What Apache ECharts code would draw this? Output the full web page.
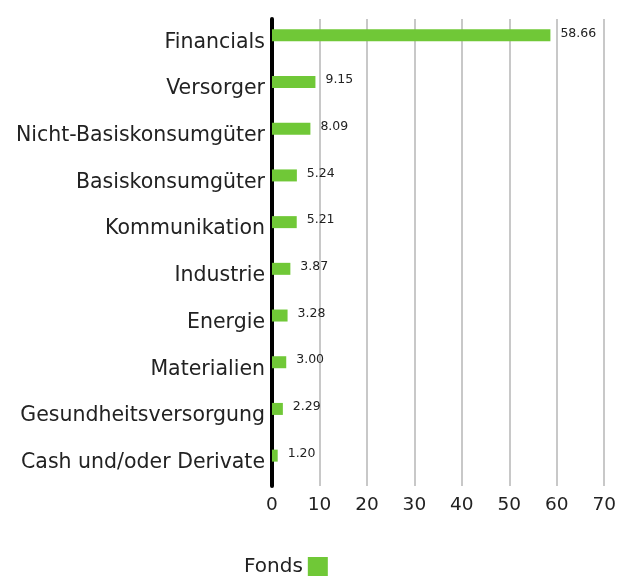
<!DOCTYPE html>
<html><head><meta charset="utf-8">
<script src="https://cdn.jsdelivr.net/npm/echarts@6/dist/echarts.min.js"></script>
<style>html,body{margin:0;padding:0;background:#fff}#c{width:619px;height:576px}</style>
</head><body><div id="c"></div>
<script>
const categories = ["Financials","Versorger","Nicht-Basiskonsumgüter","Basiskonsumgüter","Kommunikation","Industrie","Energie","Materialien","Gesundheitsversorgung","Cash und/oder Derivate"];
const fondsValues = [58.66, 9.15, 8.09, 5.24, 5.21, 3.87, 3.28, 3.00, 2.29, 1.20];
const xTicks = [0, 70, 10];
const FONT = "'DejaVu Sans', sans-serif";
const chart = echarts.init(document.getElementById('c'));
chart.setOption({
  animation: false,
  textStyle: {fontFamily: FONT},
  grid: {left: 272, right: 12, top: 19, bottom: 90, containLabel: false},
  legend: {data: ['Fonds'], bottom: -6, left: 239, align: 'right', itemWidth: 20, itemHeight: 20, itemGap: 8,
    textStyle: {fontSize: 20, color: '#222', fontFamily: FONT}, icon: 'rect'},
  xAxis: {type: 'value', min: xTicks[0], max: xTicks[1], interval: xTicks[2],
    axisLine: {show: false}, axisTick: {show: false},
    axisLabel: {fontSize: 18.5, color: '#222', margin: 10, fontFamily: FONT},
    splitLine: {show: true, lineStyle: {color: '#c8c8c8', width: 2}}},
  yAxis: {type: 'category', data: categories, inverse: true,
    axisLine: {show: true, lineStyle: {color: '#000', width: 4}}, axisTick: {show: false},
    axisLabel: {fontSize: 20.5, color: '#222', margin: 7, fontFamily: FONT, padding: [14,0,0,0]}},
  series: [
    {name: 'Fonds', type: 'bar', data: fondsValues, barWidth: 12, barGap: '17%',
      itemStyle: {color: '#70c837'},
      label: {show: true, position: 'right', distance: 10, fontSize: 12.5, color: '#222', fontFamily: FONT,
        formatter: p => p.value.toFixed(2), offset: [0, -2]}},
    {name: 'Benchmark', type: 'bar', data: [], barWidth: 12}
  ]
});
</script></body></html>
